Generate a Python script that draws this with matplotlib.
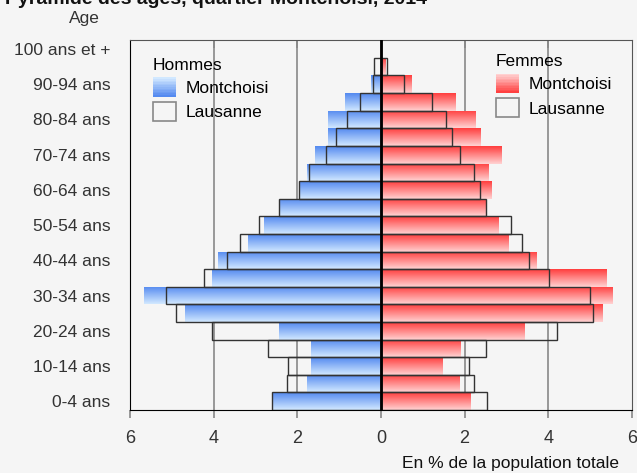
import numpy as np
import matplotlib
matplotlib.use("Agg")
import matplotlib.pyplot as plt
from matplotlib.patches import Rectangle
from matplotlib.legend_handler import HandlerBase

plt.rcParams['font.family'] = ['Liberation Sans Narrow', 'Liberation Sans', 'DejaVu Sans']

# age groups, bottom to top
ages = ['0-4 ans', '5-9 ans', '10-14 ans', '15-19 ans', '20-24 ans', '25-29 ans',
        '30-34 ans', '35-39 ans', '40-44 ans', '45-49 ans', '50-54 ans', '55-59 ans',
        '60-64 ans', '65-69 ans', '70-74 ans', '75-79 ans', '80-84 ans', '85-89 ans',
        '90-94 ans', '95-99 ans', '100 ans et +']

# % of total population
men_montchoisi = [2.57, 1.77, 1.67, 1.67, 2.44, 4.69, 5.67, 4.04, 3.90, 3.17, 2.80,
                  2.42, 1.93, 1.77, 1.58, 1.27, 1.27, 0.86, 0.24, 0.0, 0.0]
men_lausanne = [2.61, 2.24, 2.22, 2.69, 4.05, 4.89, 5.14, 4.23, 3.67, 3.37, 2.92,
                2.44, 1.96, 1.71, 1.31, 1.08, 0.82, 0.50, 0.18, 0.16, 0.0]
women_montchoisi = [2.13, 1.87, 1.48, 1.91, 3.42, 5.29, 5.53, 5.38, 3.72, 3.04, 2.82,
                    2.51, 2.63, 2.58, 2.87, 2.37, 2.25, 1.77, 0.73, 0.11, 0.0]
women_lausanne = [2.54, 2.23, 2.10, 2.51, 4.22, 5.06, 4.99, 4.01, 3.53, 3.37, 3.11,
                  2.52, 2.36, 2.23, 1.90, 1.71, 1.56, 1.23, 0.56, 0.15, 0.0]

bg = '#f5f5f5'
blue_top, blue_bot = np.array([0.82, 0.91, 1.0]), np.array([0.33, 0.54, 0.94])
red_top, red_bot = np.array([1.0, 0.82, 0.82]), np.array([1.0, 0.25, 0.25])


def grad(c_top, c_bot, n=32):
    t = np.linspace(0, 1, n)[:, None]
    return (c_top * (1 - t) + c_bot * t)[:, None, :]


class GradHandler(HandlerBase):
    def __init__(self, c_top, c_bot):
        super().__init__()
        self.c_top, self.c_bot = c_top, c_bot

    def create_artists(self, legend, orig_handle, xdescent, ydescent, width, height,
                       fontsize, trans):
        n = 12
        out = []
        for i in range(n):
            t = i / (n - 1)
            c = self.c_top * (1 - t) + self.c_bot * t
            r = Rectangle((-xdescent, -ydescent + height * (n - 1 - i) / n), width,
                          height / n + 0.3, facecolor=c, edgecolor='none', transform=trans)
            out.append(r)
        return out


fig = plt.figure(figsize=(6.37, 4.73), dpi=100, facecolor=bg)
ax = fig.add_axes([0.204, 0.133, 0.788, 0.782], facecolor=bg)

y = np.arange(len(ages))
ax.set_xlim(-6, 6)
ax.set_ylim(-0.5, len(ages) - 0.5)

for v in [-4, -2, 2, 4]:
    ax.axvline(v, color='#888888', lw=1.2, zorder=0)

# gradient filled bars for Montchoisi
for vals, sign, ct, cb in [(men_montchoisi, -1, blue_top, blue_bot),
                           (women_montchoisi, 1, red_top, red_bot)]:
    bars = ax.barh(y, np.array(vals) * sign, height=1.0, color='none', zorder=2)
    img = grad(ct, cb)
    for b in bars:
        if b.get_width() == 0:
            continue
        x0 = b.get_x()
        x1 = x0 + b.get_width()
        im = ax.imshow(img, extent=(min(x0, x1), max(x0, x1), b.get_y() + b.get_height(), b.get_y()),
                       aspect='auto', zorder=2, interpolation='bilinear')
        im.set_clip_path(b)

# Lausanne outlines
ax.barh(y, -np.array(men_lausanne), height=1.0, facecolor='none', edgecolor='#333333',
        lw=1.0, zorder=3)
ax.barh(y, np.array(women_lausanne), height=1.0, facecolor='none', edgecolor='#333333',
        lw=1.0, zorder=3)

ax.axvline(0, color='black', lw=2, zorder=4)

ax.set_xticks([-6, -4, -2, 0, 2, 4, 6])
ax.set_xticklabels(['6', '4', '2', '0', '2', '4', '6'], fontsize=13, color='#333333')
ax.tick_params(axis='x', direction='out', length=6, color='#888888', width=1.2, pad=8)
ax.set_yticks(y[::2])
ax.set_yticklabels(ages[::2], fontsize=12.5, color='#333333')
ax.tick_params(axis='y', length=0, pad=14)
ax.spines['left'].set_color('black')
ax.spines['bottom'].set_color('black')
ax.spines['top'].set_color('#555555')
ax.spines['right'].set_color('#555555')

sec = ax.secondary_xaxis('top')
sec.set_xticks([-4, -2, 2, 4])
sec.set_xticklabels([])
sec.tick_params(direction='in', length=6, color='#888888', width=1.2)
sec.spines['top'].set_visible(False)

fig.text(84 / 637, 1 - 19 / 473, 'Age', fontsize=12.5, color='#333333', ha='center', va='center')
fig.text(510 / 637, 1 - 463 / 473, 'En % de la population totale', fontsize=12.5,
         color='#111111', ha='center', va='center')
fig.text(5 / 637, 1 - 4 / 473, 'Pyramide des âges, quartier Montchoisi, 2014', fontsize=14,
         fontweight='bold', ha='left', va='baseline', color='#111111')

# legends
h_m = Rectangle((0, 0), 1, 1)
f_m = Rectangle((0, 0), 1, 1)
h_l = Rectangle((0, 0), 1, 1, facecolor='none', edgecolor='#888888', lw=1.2)
leg_kw = dict(loc='upper left', frameon=False, fontsize=12.5, title_fontsize=12.5,
              alignment='left', handlelength=1.3, handleheight=1.3, labelspacing=0.3,
              handletextpad=0.6)
leg1 = ax.legend([h_m, h_l], ['Montchoisi', 'Lausanne'], title='Hommes',
                 bbox_to_anchor=(0.015, 0.995),
                 handler_map={h_m: GradHandler(blue_top, blue_bot)}, **leg_kw)
ax.add_artist(leg1)
ax.legend([f_m, h_l], ['Montchoisi', 'Lausanne'], title='Femmes',
          bbox_to_anchor=(0.698, 1.005),
          handler_map={f_m: GradHandler(red_top, red_bot)}, **leg_kw)

fig.savefig('out.png', dpi=100, facecolor=bg)
